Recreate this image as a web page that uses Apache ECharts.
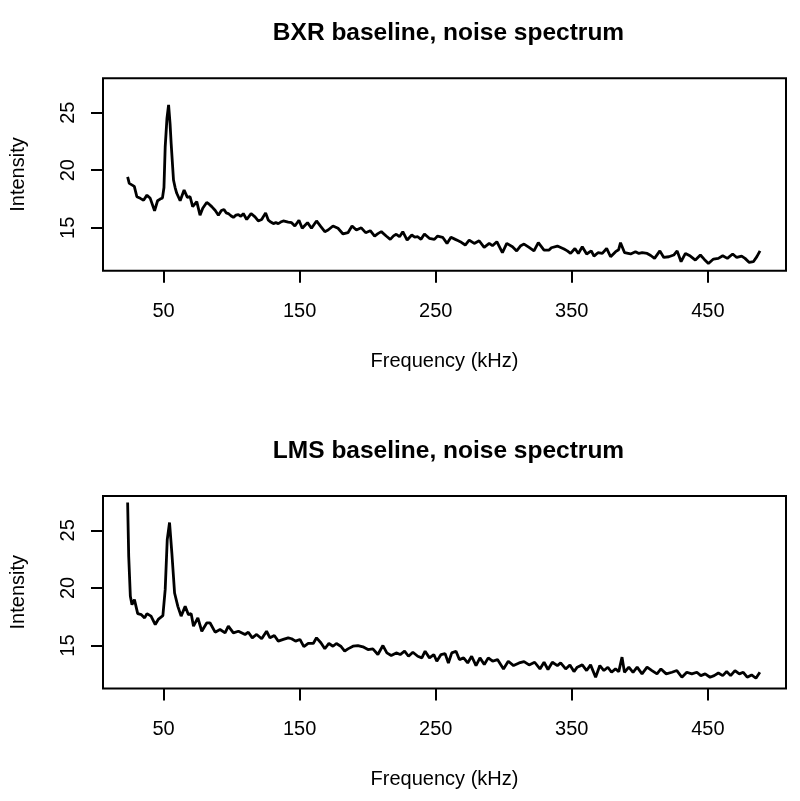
<!DOCTYPE html>
<html>
<head>
<meta charset="utf-8">
<script src="https://cdn.jsdelivr.net/npm/echarts@6/dist/echarts.min.js"></script>
<style>
html,body{margin:0;padding:0;background:#fff;}
#chart{width:800px;height:801px;}
</style>
</head>
<body>
<div id="chart"></div>
<script>
// ---- data ----
const titles = ['BXR baseline, noise spectrum', 'LMS baseline, noise spectrum'];
const xTickValues = [50, 150, 250, 350, 450];
const yTickValues = [15, 20, 25];

const freqBXR = [23.6,24.8,27.0,28.5,30.4,32.9,35.3,37.8,40.2,43.4,45.6,47.5,49.2,50.3,51.2,52.5,53.7,54.8,55.6,57.3,
58.5,59.7,62.2,65.1,67.5,69.5,71.4,74.4,76.8,78.8,81.7,83.5,85.4,88.0,90.3,92.5,94.4,96.0,97.6,99.5,
101.3,103.2,105.0,106.8,108.6,111.1,114.3,117.2,119.6,122.1,125.0,127.0,128.8,130.7,132.5,134.3,136.1,138.0,141.6,144.1,
146.5,149.5,151.9,153.8,155.8,158.7,162.4,165.6,168.5,170.9,174.5,178.2,181.9,185.5,188.5,191.7,195.3,198.5,201.9,205.1,
207.5,210.0,213.6,216.6,219.0,221.0,223.4,225.8,229.0,232.4,234.6,236.8,239.2,241.7,245.3,249.0,251.4,255.1,258.3,261.2,
264.4,266.2,268.0,271.7,274.6,278.3,281.9,285.6,289.3,291.7,294.9,299.0,302.2,306.4,309.5,312.5,314.9,318.6,322.2,325.4,
329.6,333.3,335.0,339.4,344.3,346.7,349.1,352.3,354.8,357.7,360.9,364.3,366.3,369.2,372.4,375.6,378.5,382.2,384.4,385.8,
388.8,393.2,396.8,399.3,401.7,405.4,408.0,410.8,414.7,417.6,421.3,424.9,427.4,430.3,433.5,437.1,440.8,444.5,447.4,450.4,
454.1,457.7,460.9,464.3,468.2,471.2,474.8,477.3,480.4,483.4,486.0,488.3];
const intensityBXR = [19.43,18.86,18.71,18.6,17.7,17.56,17.4,17.84,17.56,16.48,17.35,17.5,17.6,18.5,22.0,24.5,25.67,24.0,22.3,19.15,
18.5,18.0,17.35,18.28,17.65,17.7,16.84,17.27,16.1,16.7,17.2,17.05,16.84,16.5,16.1,16.5,16.6,16.3,16.24,16.05,
15.9,16.1,16.15,16.0,16.24,15.72,16.24,15.95,15.6,15.72,16.3,15.66,15.5,15.37,15.45,15.37,15.5,15.6,15.5,15.45,
15.16,15.66,14.96,15.2,15.45,14.96,15.6,15.1,14.67,14.81,15.16,14.96,14.47,14.58,15.16,14.81,15.0,14.58,14.75,14.29,
14.5,14.67,14.29,14.0,14.3,14.44,14.23,14.67,13.94,14.38,14.2,14.23,14.0,14.47,14.09,14.0,14.29,14.18,13.65,14.18,
14.0,13.9,13.8,13.51,13.94,13.65,13.88,13.3,13.65,13.45,13.8,12.84,13.65,13.36,13.0,13.45,13.59,13.3,13.0,13.71,
13.07,13.07,13.27,13.42,13.16,13.0,12.78,13.21,12.78,13.36,12.73,13.0,12.55,12.84,12.78,13.21,12.49,12.93,13.1,13.71,
12.84,12.73,12.93,12.78,12.84,12.78,12.6,12.35,13.0,12.43,12.49,12.64,13.0,12.06,12.78,12.55,12.2,12.64,12.26,11.91,
12.29,12.35,12.58,12.35,12.73,12.43,12.55,12.35,12.0,12.06,12.5,13.0];

const freqLMS = [23.6,24.4,25.6,26.8,28.6,31.0,33.7,36.1,37.8,40.8,43.9,46.3,49.5,51.2,52.7,54.4,56.1,58.1,60.5,62.9,
65.9,68.3,70.3,72.0,75.2,78.1,81.7,84.2,87.9,91.5,95.2,97.6,101.3,105.0,109.9,112.3,115.2,118.4,122.1,125.7,
128.2,131.4,134.3,138.0,141.6,144.1,147.0,150.2,153.1,156.3,160.0,162.4,165.6,168.5,171.5,174.5,177.0,180.2,183.1,185.5,
189.2,192.8,196.5,200.2,203.8,207.5,211.2,214.1,217.3,221.0,223.9,227.1,230.0,233.2,236.8,239.8,242.2,245.4,248.6,250.8,
253.9,256.9,259.3,261.8,264.9,267.4,270.5,273.5,276.4,279.6,282.5,285.7,288.6,291.8,295.4,299.8,303.3,307.2,311.3,314.9,
318.6,322.7,326.6,329.6,332.5,335.7,339.4,341.8,345.5,348.6,351.6,354.0,357.7,360.9,363.8,367.5,370.6,373.6,376.5,379.2,
382.1,384.5,386.9,388.7,391.9,395.0,398.0,401.6,405.3,408.9,412.6,415.5,419.4,423.6,427.2,430.9,434.5,438.2,441.9,444.8,
448.0,451.6,454.6,457.7,460.9,463.8,466.7,469.9,473.1,476.0,478.9,482.1,485.3,488.2];
const intensityLMS = [27.41,22.73,19.27,18.55,18.98,17.77,17.68,17.4,17.77,17.55,16.82,17.3,17.6,19.85,24.18,25.68,23.03,19.56,18.4,17.55,
18.4,17.68,17.77,16.68,17.4,16.24,16.96,16.96,16.16,16.39,16.1,16.68,16.1,16.24,15.96,16.16,15.67,15.96,15.59,16.24,
15.67,15.87,15.38,15.53,15.67,15.59,15.38,15.53,14.9,15.18,15.18,15.67,15.24,14.72,15.18,14.94,15.18,14.94,14.51,14.71,
14.94,15.0,14.89,14.65,14.71,14.22,15.0,14.36,14.13,14.36,14.22,14.51,14.07,14.42,14.07,13.93,14.51,13.93,14.22,13.64,
14.22,14.3,13.49,14.36,14.51,13.78,13.93,13.49,14.07,13.26,13.93,13.35,13.93,13.64,13.78,12.97,13.64,13.26,13.49,13.61,
13.32,13.55,12.97,13.55,12.92,13.55,13.26,13.49,12.97,13.32,12.74,13.12,13.32,12.83,13.32,12.25,13.26,12.83,13.12,12.68,
12.97,12.74,13.99,12.68,13.12,12.68,13.12,12.54,13.12,12.83,12.54,12.97,12.54,12.68,12.83,12.25,12.68,12.54,12.68,12.39,
12.54,12.25,12.39,12.62,12.39,12.74,12.39,12.83,12.54,12.68,12.25,12.45,12.16,12.68];

// ---- chart ----
const FONT = 'Liberation Sans, Arial, sans-serif';
const pairs = (xs, ys) => xs.map((x, i) => [x, ys[i]]);
const panelTops = [78.3, 496];
const titleTops = [15.6, 433.6];

function xAxisDef(gi) {
  return {
    gridIndex: gi, type: 'value', min: 5.5, max: 507.4,
    name: 'Frequency (kHz)', nameLocation: 'middle', nameGap: 81,
    nameTextStyle: {fontSize: 20, color: '#000', fontFamily: FONT},
    axisLine: {show: false},
    splitLine: {show: false},
    axisTick: {show: true, inside: false, length: 12, customValues: xTickValues,
      lineStyle: {color: '#000', width: 2}},
    axisLabel: {show: true, customValues: xTickValues, margin: 31, fontSize: 20,
      color: '#000', fontFamily: FONT}
  };
}
function yAxisDef(gi) {
  return {
    gridIndex: gi, type: 'value', min: 11.28, max: 27.98,
    name: 'Intensity', nameLocation: 'middle', nameGap: 75, nameRotate: 90,
    nameTextStyle: {fontSize: 20, color: '#000', fontFamily: FONT},
    axisLine: {show: false},
    splitLine: {show: false},
    axisTick: {show: true, inside: false, length: 12, customValues: yTickValues,
      lineStyle: {color: '#000', width: 2}},
    axisLabel: {show: true, customValues: yTickValues, rotate: 90, margin: 25, fontSize: 20,
      color: '#000', fontFamily: FONT}
  };
}

const chart = echarts.init(document.getElementById('chart'), null, {renderer: 'canvas'});
chart.setOption({
  animation: false,
  backgroundColor: '#fff',
  title: titles.map((t, i) => ({
    text: t, left: 443.5, top: titleTops[i], textAlign: 'center',
    textStyle: {fontSize: 24.5, fontWeight: 'bold', color: '#000', fontFamily: FONT}
  })),
  grid: panelTops.map(t => ({
    left: 101, top: t, width: 685, height: 192.4, show: true,
    borderColor: '#000', borderWidth: 2, backgroundColor: 'transparent', containLabel: false
  })),
  xAxis: [xAxisDef(0), xAxisDef(1)],
  yAxis: [yAxisDef(0), yAxisDef(1)],
  series: [
    {type: 'line', xAxisIndex: 0, yAxisIndex: 0, data: pairs(freqBXR, intensityBXR),
      showSymbol: false, lineStyle: {color: '#000', width: 2.8}, smooth: false},
    {type: 'line', xAxisIndex: 1, yAxisIndex: 1, data: pairs(freqLMS, intensityLMS),
      showSymbol: false, lineStyle: {color: '#000', width: 2.8}, smooth: false}
  ]
});
</script>
</body>
</html>
